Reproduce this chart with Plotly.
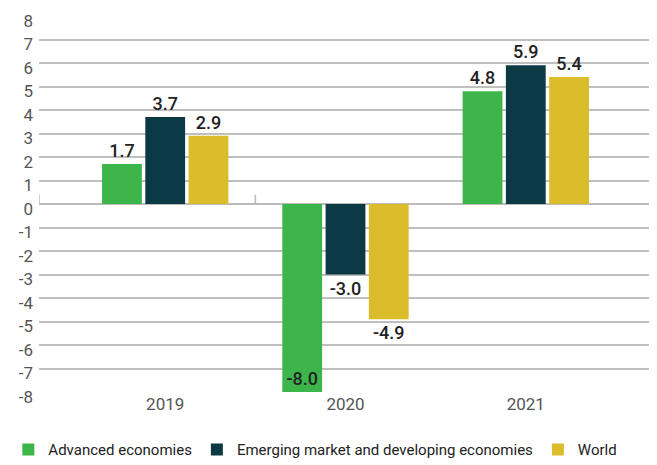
import plotly.graph_objects as go

years = ["2019", "2020", "2021"]
advanced = [1.7, -8.0, 4.8]
emerging = [3.7, -3.0, 5.9]
world = [2.9, -4.9, 5.4]
series_names = ["Advanced economies", "Emerging market and developing economies", "World"]
colors = ["#3db54a", "#0b3a44", "#dbbd2b"]
y_ticks = list(range(-8, 9))
y_tick_text = [str(v) for v in y_ticks]

FONT = "Roboto, Liberation Sans, sans-serif"

fig = go.Figure()
for name, vals, col in zip(series_names, [advanced, emerging, world], colors):
    pos = ["inside" if v <= -8 else "outside" for v in vals]
    fig.add_trace(go.Bar(
        x=years, y=vals, name=name, marker=dict(color=col, line=dict(width=0)),
        text=[f"{v:.1f}" for v in vals], textposition=pos, insidetextanchor="end",
        textfont=dict(family=FONT, size=18, color="#222222", weight=500),
        cliponaxis=False,
    ))

# small divider ticks on zero line
for xv in [-0.7, 0.5]:
    fig.add_shape(type="line", xref="x", yref="y", x0=xv, x1=xv, y0=0, y1=0.4,
                  line=dict(color="#bbbbbb", width=1.5))

# page body has an 8px default margin, so the figure is sized to fit the window
fig.update_layout(
    width=649, height=457,
    margin=dict(l=31, r=5, t=8, b=73, autoexpand=False),
    plot_bgcolor="white", paper_bgcolor="white",
    barmode="group", bargap=0.28, bargroupgap=0.08,
    font=dict(family=FONT, size=16, color="#555555"),
    xaxis=dict(range=[-0.7, 2.7], showgrid=False, showline=False, ticks="",
               tickfont=dict(size=17, color="#555555"), zeroline=False),
    yaxis=dict(range=[-8, 8], tickvals=y_ticks, ticktext=y_tick_text, showgrid=True,
               gridcolor="#bfbfbf", gridwidth=1.5, zeroline=True, zerolinecolor="#bbbbbb",
               zerolinewidth=2, tickfont=dict(size=17, color="#555555"), ticks="",
               ticklabelstandoff=5, ticklabelshift=5, ticklabeloverflow="allow"),
    legend=dict(orientation="h", x=-0.05, xref="paper", y=-0.11, yref="paper",
                yanchor="top", xanchor="left",
                font=dict(size=15, color="#222222"), itemwidth=30,
                traceorder="normal"),
    showlegend=True,
)
fig.write_html("out.html")
